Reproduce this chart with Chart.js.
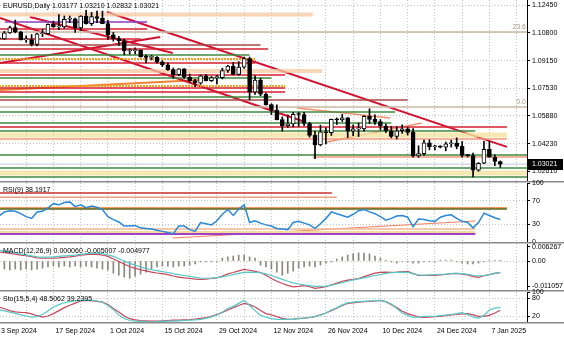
<!DOCTYPE html>
<html lang="en">
<head>
<meta charset="UTF-8">
<title>EURUSD, Daily</title>
<script src="https://cdn.jsdelivr.net/npm/chart.js@4.4.1/dist/chart.umd.min.js"></script>
<style>
  body { margin: 0; background: #fff; }
  #chart { position: relative; width: 564px; height: 338px; overflow: hidden; font-family: 'Liberation Sans', Arial, sans-serif; }
  #chart canvas { position: absolute; left: 0; top: 0; }
  .caption { position: absolute; left: 3px; font-size: 7px; line-height: 8px; color: #000; white-space: nowrap; }
  .fibo { position: absolute; font-size: 7px; line-height: 8px; color: #a89478; }
</style>
</head>
<body>
<div id="chart">
  <canvas id="price" width="564" height="338"></canvas>
  <canvas id="rsi" width="564" height="338"></canvas>
  <canvas id="macd" width="564" height="338"></canvas>
  <canvas id="sto" width="564" height="338"></canvas>
  <div class="caption" id="cap-price" style="top:2px"></div>
  <div class="caption" id="cap-rsi" style="top:186px"></div>
  <div class="caption" id="cap-macd" style="top:247px"></div>
  <div class="caption" id="cap-sto" style="top:295px"></div>
  <div class="fibo" id="fibo-236">23.6</div>
  <div class="fibo" id="fibo-0">0.0</div>
</div>
<script>
// daily bars, 3 Sep 2024 .. 9 Jan 2025 (bar index = position in the arrays)
const opens = [1.1047,1.1045,1.1080,1.1111,1.1085,1.1039,1.1040,1.1011,1.1075,1.1076,
  1.1131,1.1116,1.1116,1.1161,1.1163,1.1110,1.1179,1.1134,1.1177,1.1166,
  1.1135,1.1068,1.1046,1.1032,1.0974,1.0975,1.0978,1.0939,1.0935,1.0937,
  1.0909,1.0891,1.0862,1.0833,1.0867,1.0817,1.0797,1.0782,1.0826,1.0797,
  1.0815,1.0815,1.0857,1.0884,1.0834,1.0877,1.0928,1.0729,1.0800,1.0717,
  1.0655,1.0622,1.0566,1.0529,1.0540,1.0597,1.0596,1.0543,1.0472,1.0416,
  1.0494,1.0488,1.0568,1.0565,1.0576,1.0498,1.0511,1.0511,1.0586,1.0567,
  1.0554,1.0528,1.0500,1.0467,1.0500,1.0512,1.0490,1.0351,1.0364,1.0429,
  1.0405,1.0407,1.0403,1.0423,1.0427,1.0407,1.0354,1.0352,1.0266,1.0307,
  1.0390,1.0343,1.03177];
const highs = [1.1074,1.1089,1.1120,1.1156,1.1090,1.1063,1.1070,1.1078,1.1100,1.1134,
  1.1150,1.1189,1.1180,1.1180,1.1168,1.1182,1.1214,1.1202,1.1209,1.1209,
  1.1154,1.1083,1.1059,1.1043,1.0986,1.0991,1.0980,1.0950,1.0946,1.0940,
  1.0915,1.0903,1.0872,1.0868,1.0868,1.0836,1.0805,1.0831,1.0835,1.0822,
  1.0828,1.0871,1.0888,1.0905,1.0910,1.0937,1.0937,1.0826,1.0812,1.0723,
  1.0660,1.0654,1.0582,1.0594,1.0609,1.0608,1.0609,1.0550,1.0497,1.0533,
  1.0517,1.0569,1.0576,1.0597,1.0579,1.0535,1.0545,1.0590,1.0630,1.0595,
  1.0566,1.0540,1.0526,1.0524,1.0535,1.0520,1.0513,1.0411,1.0444,1.0446,
  1.0414,1.0412,1.0433,1.0444,1.0458,1.0436,1.0360,1.0368,1.0311,1.0437,
  1.0436,1.0357,1.03210];
const lows = [1.1026,1.1041,1.1077,1.1080,1.1038,1.1024,1.1002,1.1003,1.1058,1.1071,
  1.1113,1.1099,1.1108,1.1141,1.1083,1.1095,1.1132,1.1124,1.1141,1.1134,
  1.1042,1.1031,1.1006,1.0950,1.0954,1.0956,1.0936,1.0902,1.0920,1.0900,
  1.0880,1.0857,1.0811,1.0826,1.0810,1.0788,1.0761,1.0775,1.0796,1.0792,
  1.0778,1.0807,1.0846,1.0833,1.0830,1.0870,1.0683,1.0716,1.0708,1.0651,
  1.0595,1.0564,1.0497,1.0520,1.0523,1.0526,1.0530,1.0462,1.0335,1.0410,
  1.0422,1.0472,1.0537,1.0555,1.0460,1.0470,1.0466,1.0497,1.0541,1.0537,
  1.0505,1.0488,1.0458,1.0451,1.0485,1.0474,1.0344,1.0343,1.0353,1.0387,
  1.0386,1.0398,1.0381,1.0403,1.0393,1.0344,1.0345,1.0226,1.0260,1.0305,
  1.0343,1.0293,1.02832];
const closes = [1.1045,1.1080,1.1111,1.1085,1.1039,1.1040,1.1011,1.1075,1.1076,1.1131,
  1.1116,1.1116,1.1161,1.1163,1.1110,1.1179,1.1134,1.1177,1.1166,1.1135,
  1.1068,1.1046,1.1032,1.0974,1.0975,1.0978,1.0939,1.0935,1.0937,1.0909,
  1.0891,1.0862,1.0833,1.0867,1.0817,1.0797,1.0782,1.0826,1.0797,1.0815,
  1.0815,1.0857,1.0884,1.0834,1.0877,1.0928,1.0729,1.0800,1.0717,1.0655,
  1.0622,1.0566,1.0529,1.0540,1.0597,1.0596,1.0543,1.0472,1.0416,1.0494,
  1.0488,1.0568,1.0565,1.0576,1.0498,1.0511,1.0511,1.0586,1.0567,1.0554,
  1.0528,1.0500,1.0467,1.0500,1.0512,1.0490,1.0351,1.0364,1.0429,1.0405,
  1.0407,1.0403,1.0423,1.0427,1.0407,1.0354,1.0352,1.0266,1.0307,1.0390,
  1.0343,1.0318,1.03021];

const rsiValues = [44,51,53,52,48,43,40,51,52,58, 65,63,67,68,60,63,58,61,59,55,
  43,38,34,27,27,28,24,23,22,20, 18,16,14,27,27,21,18,33,31,29,
  36,47,55,45,56,63,33,36,32,29, 27,23,22,21,33,35,32,29,23,31,
  40,51,48,45,42,47,53,55,51,48, 43,37,40,44,45,42,26,39,38,36,
  35,42,45,46,40,35,33,24,33,49, 45,41,38.1917];

const macdMain = [0.0039,0.0036,0.0033,0.0030,0.0026,0.0023,0.0019,0.0014,0.0012,0.0012,
  0.0013,0.0014,0.0016,0.0018,0.0021,0.0025,0.0028,0.0030,0.0029,0.0026,
  0.0020,0.0009,-0.0002,-0.0014,-0.0024,-0.0032,-0.0038,-0.0043,-0.0048,-0.0052,
  -0.0055,-0.0059,-0.0065,-0.0070,-0.0073,-0.0076,-0.0079,-0.0080,-0.0079,-0.0076,
  -0.0073,-0.0065,-0.0056,-0.0050,-0.0043,-0.0036,-0.0040,-0.0045,-0.0050,-0.0062,
  -0.0076,-0.0088,-0.0098,-0.0106,-0.0112,-0.0110,-0.0107,-0.0112,-0.0119,-0.0116,
  -0.0112,-0.0104,-0.0096,-0.0088,-0.0083,-0.0080,-0.0076,-0.0068,-0.0060,-0.0053,
  -0.0049,-0.0048,-0.0049,-0.0048,-0.0046,-0.0045,-0.0055,-0.0062,-0.0063,-0.0063,
  -0.0062,-0.0060,-0.0058,-0.0055,-0.0054,-0.0057,-0.0060,-0.0068,-0.0071,-0.0064,
  -0.0059,-0.0054,-0.005007];
const macdSignal = [0.0046,0.0043,0.0039,0.0035,0.0031,0.0027,0.0022,0.0018,0.0017,0.0017,
  0.0018,0.0020,0.0022,0.0024,0.0026,0.0029,0.0032,0.0034,0.0034,0.0032,
  0.0027,0.0020,0.0010,0.0000,-0.0010,-0.0018,-0.0026,-0.0032,-0.0038,-0.0042,
  -0.0046,-0.0050,-0.0055,-0.0059,-0.0063,-0.0067,-0.0071,-0.0074,-0.0075,-0.0074,
  -0.0072,-0.0069,-0.0064,-0.0059,-0.0054,-0.0049,-0.0048,-0.0049,-0.0051,-0.0056,
  -0.0063,-0.0071,-0.0080,-0.0088,-0.0095,-0.0100,-0.0104,-0.0107,-0.0110,-0.0110,
  -0.0109,-0.0105,-0.0100,-0.0094,-0.0088,-0.0082,-0.0078,-0.0073,-0.0068,-0.0063,
  -0.0059,-0.0054,-0.0051,-0.0049,-0.0048,-0.0049,-0.0056,-0.0060,-0.0061,-0.0060,
  -0.0059,-0.0058,-0.0057,-0.0055,-0.0054,-0.0055,-0.0058,-0.0062,-0.0065,-0.0063,
  -0.0059,-0.0053,-0.004977];
const macdHist = [-0.0031,-0.0035,-0.0039,-0.0035,-0.0039,-0.0035,-0.0039,-0.0035,-0.0031,-0.0026,
  -0.0022,-0.0026,-0.0022,-0.0026,-0.0022,-0.0026,-0.0022,-0.0026,-0.0031,-0.0035,
  -0.0040,-0.0053,-0.0062,-0.0070,-0.0075,-0.0066,-0.0057,-0.0048,-0.0035,-0.0026,
  -0.0022,-0.0022,-0.0026,-0.0022,-0.0022,-0.0018,-0.0013,-0.0004,-0.0004,-0.0004,
  -0.0004,0.0013,0.0018,0.0022,0.0026,0.0026,0.0018,0.0013,-0.0018,-0.0026,
  -0.0035,-0.0048,-0.0062,-0.0053,-0.0044,-0.0031,-0.0026,-0.0022,-0.0026,-0.0018,
  -0.0009,-0.0004,0.0009,0.0018,0.0026,0.0031,0.0035,0.0035,0.0031,0.0022,
  0.0013,0.0004,-0.0004,-0.0009,-0.0004,-0.0004,-0.0009,-0.0009,-0.0004,-0.0004,
  -0.0004,0.0004,0.0004,0.0004,-0.0004,-0.0009,-0.0013,-0.0013,-0.0009,-0.0004,
  0.0002,0.0001,0.000060];

const stoMain = [40,37,33,29,24,20,16,18,25,37, 50,58,64,68,70,72,72,72,70,66,
  55,42,23,12,5,3,2,1,0,1, 2,3,3,4,5,6,7,9,12,17,
  23,33,45,52,62,72,55,38,22,16, 11,9,9,9,9,11,13,15,18,23,
  30,40,47,57,64,66,68,69,70,71, 72,67,60,45,30,22,15,17,19,19,
  19,21,23,25,28,31,25,16,13,22, 40,46,48.5062];
const stoSignal = [50,44,38,34,32,31,27,21,16,20, 28,38,48,56,63,70,72,71,69,66,
  58,45,33,20,11,7,5,4,3,3, 4,5,6,6,7,8,10,12,15,19,
  25,32,40,48,55,62,58,50,38,28, 24,18,12,9,10,12,13,15,18,24,
  30,38,46,55,62,64,66,68,69,70, 72,68,58,48,36,28,22,17,15,16,
  18,19,21,24,25,27,28,24,19,19, 22,30,39.2395];

// axis labels
const priceTicks = [1.12450, 1.10800, 1.09150, 1.07530, 1.05880, 1.04230, 1.02610];
const rsiTicks = [100, 70, 30, 0];
const macdTicks = [0.006267, 0, -0.011057];
const macdTickLabels = ['0.006267', '0.00', '-0.011057'];
const stoTicks = [100, 80, 20];
const dateBars = [0, 10, 20, 30, 40, 50, 60, 70, 80, 90];
const dateLabels = ['3 Sep 2024', '17 Sep 2024', '1 Oct 2024', '15 Oct 2024', '29 Oct 2024',
  '12 Nov 2024', '26 Nov 2024', '10 Dec 2024', '24 Dec 2024', '7 Jan 2025'];

// drawn objects on the price window: [price, fromBar, toBar]
const redLevels = [[1.1103, 0, 27.2], [1.1044, 0, 26], [1.0985, 0, 49.4], [1.0902, 0, 47],
  [1.0830, 0, 52.5], [1.0753, 0, 52.5], [1.0730, 0, 52.5], [1.0522, 0, 93.2]];
const brownLevels = [[1.1008, 0, 48], [1.0682, 0, 75]];
const greenLevels = [[1.0949, 0, 46], [1.0813, 0, 50], [1.0700, 0, 50], [1.0611, 0, 72.7],
  [1.0546, 0, 72], [1.0498, 0, 87.4], [1.0356, 0, 99], [1.0279, 0, 99], [1.0226, 0, 99]];
const orangeLevels = [[1.0925, 0, 47], [1.0765, 0, 52.5]];
const peachBands = [[1.1189, 0, 57.6], [1.0854, 0, 59.3]];
const yellowBands = [[1.0475, 0, 93.2], [1.0250, 0, 99]];
const salmonLevels = [[1.0451, 0, 93.2], [1.0344, 57.6, 99]];
const purpleLevels = [[1.1145, 1.1, 27.2]];
const fiboLevels = [[1.1085, 0, 99], [1.0641, 0, 99]];
// trend lines: [fromBar, fromPrice, toBar, toPrice]
const redTrends = [[19.8, 1.1204, 93.2, 1.0404], [0.2, 1.1168, 56.2, 1.0552],
  [0.2, 1.0902, 29.6, 1.1056], [5.7, 1.1174, 31.9, 1.0961]];
const orangeTrends = [[0.2, 1.0742, 36.9, 1.0801]];
const salmonTrends = [[60.2, 1.0433, 77.6, 1.0546], [54.7, 1.0635, 71.8, 1.0575]];

// drawn objects on the RSI window
const rsiRedLevels = [[83, 0, 61.1]];
const rsiSalmonLevels = [[76, 0, 62]];
const rsiOrangeLevels = [[57.6, 0, 93.2]];
const rsiOliveLevels = [[56, 0, 93.2]];
const rsiLowLevels = [[22, 0, 87.4]];
const rsiYellowLevels = [[17, 0, 87.4]];
const rsiPurpleLevels = [[13.6, 0, 87.4]];
const rsiTrends = [[31.9, 6.8, 87.4, 35.6]];

const X_MIN = 0.2, X_MAX = 96.9;
const FONT = { family: "'Liberation Sans', Arial, sans-serif", size: 7 };
const W = 564, H = 338;
const last = closes.length - 1;
const bars = closes.map((c, i) => i);
const weekBars = [];
for (let i = 0; i <= 95; i += 5) weekBars.push(i);

function segment(x0, y0, x1, y1, color, width, dash) {
  return {
    type: 'line', data: [{ x: x0, y: y0 }, { x: x1, y: y1 }],
    borderColor: color, borderWidth: width, borderDash: dash || [],
    pointRadius: 0, order: 5
  };
}
function levels(list, color, width, dash) {
  return list.map(l => segment(l[1], l[0], l[2], l[0], color, width, dash));
}
function trends(list, color, width) {
  return list.map(t => segment(t[0], t[1], t[2], t[3], color, width));
}
function series(values, color, width) {
  return {
    type: 'line', data: values.map((v, i) => ({ x: i, y: v })),
    borderColor: color, borderWidth: width, pointRadius: 0, tension: 0, order: 1
  };
}

// no auto padding: every window keeps the exact plot rectangle it is given
function noPadding(s) {
  s.paddingTop = 0; s.paddingBottom = 0; s.paddingLeft = 0; s.paddingRight = 0;
}

function xAxis(showDates) {
  return {
    type: 'linear', min: X_MIN, max: X_MAX, offset: false,
    afterBuildTicks: s => { s.ticks = weekBars.map(v => ({ value: v })); },
    afterFit: s => { s.height = showDates ? 16 : 0; noPadding(s); },
    grid: { color: '#c4c4c4', drawTicks: false, offset: false },
    border: { display: false, dash: [1, 2] },
    ticks: showDates ? {
      display: true, align: 'start', autoSkip: false, maxRotation: 0, padding: 5,
      labelOffset: 2, color: '#000', font: FONT,
      callback: v => { const k = dateBars.indexOf(v); return k < 0 ? '' : dateLabels[k]; }
    } : { display: false }
  };
}
function yAxis(min, max, ticks, fmt, gridFor) {
  return {
    position: 'right', min, max,
    afterBuildTicks: s => { s.ticks = ticks.map(v => ({ value: v })); },
    afterFit: s => { s.width = W - 527; noPadding(s); },
    grid: {
      color: ctx => (gridFor(ctx.tick && ctx.tick.value) ? '#c4c4c4' : 'rgba(0,0,0,0)'),
      tickColor: '#000', tickLength: 3, tickBorderDash: []
    },
    border: { display: true, color: '#000', dash: [1, 2] },
    ticks: { color: '#000', font: FONT, padding: 2, autoSkip: false, callback: fmt }
  };
}

const separator = {
  id: 'separator',
  afterDraw(chart) {
    const { ctx, chartArea } = chart;
    ctx.save();
    ctx.strokeStyle = '#8a8a8a';
    ctx.lineWidth = 1.5;
    ctx.beginPath();
    ctx.moveTo(0, chartArea.bottom + 0.75);
    ctx.lineTo(W, chartArea.bottom + 0.75);
    ctx.stroke();
    ctx.restore();
  }
};

const lastPriceTag = {
  id: 'lastPriceTag',
  afterDraw(chart) {
    const { ctx, chartArea } = chart;
    const y = Math.round(chart.scales.y.getPixelForValue(closes[last]));
    ctx.save();
    ctx.fillStyle = '#000';
    ctx.fillRect(chartArea.right + 1, y - 5, 35, 11);
    ctx.fillStyle = '#fff';
    ctx.font = "7px 'Liberation Sans', Arial, sans-serif";
    ctx.textBaseline = 'middle';
    ctx.fillText(closes[last].toFixed(5), chartArea.right + 5, y + 0.5);
    ctx.restore();
  }
};

function baseOptions(top, bottom, x, y) {
  return {
    responsive: false, animation: false, events: [],
    layout: { padding: { top, bottom: H - bottom, left: 0, right: 0 } },
    plugins: { legend: { display: false }, tooltip: { enabled: false } },
    scales: { x, y }
  };
}

// price window
const priceChart = new Chart(document.getElementById('price'), {
  type: 'bar',
  data: {
    datasets: [
      ...levels(fiboLevels, '#cbb9a0', 1.5),
      ...levels(peachBands, 'rgba(246,200,160,0.75)', 4),
      ...levels(yellowBands, 'rgba(244,226,160,0.8)', 5),
      ...levels(redLevels, '#d42030', 1.5),
      ...levels(brownLevels, '#a84848', 1.5),
      ...levels(greenLevels, '#3f8a3f', 1.5),
      ...levels(orangeLevels, '#f0a020', 2, [2, 1]),
      ...levels(salmonLevels, '#f09878', 1.5),
      ...levels(purpleLevels, '#8a3cc0', 1.5),
      ...levels([[closes[last], 0, 99]], '#c4c4d8', 1),
      ...trends(redTrends, '#d41030', 2),
      ...trends(orangeTrends, '#f08030', 2),
      ...trends(salmonTrends, '#f09070', 1.5),
      {
        type: 'bar', order: 1, grouped: false, barThickness: 1,
        data: bars.map(i => ({ x: i, y: [lows[i], highs[i]] })),
        backgroundColor: '#000'
      },
      {
        type: 'bar', order: 0, grouped: false, barThickness: 4, minBarLength: 1,
        data: bars.map(i => ({ x: i, y: [opens[i], closes[i]] })),
        backgroundColor: bars.map(i => (closes[i] >= opens[i] ? '#fff' : '#000')),
        borderColor: '#000', borderWidth: 1, borderSkipped: false
      }
    ]
  },
  options: baseOptions(0, 181, xAxis(false),
    yAxis(1.0202, 1.1275, priceTicks, v => v.toFixed(5), () => true)),
  plugins: [separator, lastPriceTag]
});

// RSI window
new Chart(document.getElementById('rsi'), {
  type: 'line',
  data: {
    datasets: [
      ...levels(rsiRedLevels, '#c83030', 1.5),
      ...levels(rsiSalmonLevels, '#f0a080', 1.5),
      ...levels(rsiOliveLevels, '#5a6a20', 1.5),
      ...levels(rsiOrangeLevels, '#f07828', 1.5),
      ...levels(rsiLowLevels, '#f2b890', 1.5),
      ...levels(rsiYellowLevels, '#f4dc98', 2),
      ...levels(rsiPurpleLevels, '#a040c8', 2),
      ...trends(rsiTrends, '#f08060', 1.2),
      series(rsiValues, '#2a88d8', 1.5)
    ]
  },
  options: baseOptions(183, 242, xAxis(false),
    yAxis(0, 100, rsiTicks, v => String(v), v => v === 30 || v === 70)),
  plugins: [separator]
});

// MACD window
new Chart(document.getElementById('macd'), {
  type: 'bar',
  data: {
    datasets: [
      {
        type: 'bar', order: 3, barThickness: 1,
        data: bars.map(i => ({ x: i, y: macdHist[i] })),
        backgroundColor: '#8c887c'
      },
      series(macdSignal, '#56c8c8', 1.2),
      series(macdMain, '#c8485a', 1.2)
    ]
  },
  options: baseOptions(244, 290, xAxis(false),
    yAxis(-0.0126, 0.0074, macdTicks, v => macdTickLabels[macdTicks.indexOf(v)], v => v === 0)),
  plugins: [separator]
});

// Stochastic window with the date scale
new Chart(document.getElementById('sto'), {
  type: 'line',
  data: {
    datasets: [
      series(stoMain, '#56c8c8', 1.2),
      series(stoSignal, '#c8485a', 1.2)
    ]
  },
  options: baseOptions(292, H, xAxis(true),
    yAxis(0, 100, stoTicks, v => String(v), v => v === 20 || v === 80)),
  plugins: [separator]
});

// captions built from the last bar
document.getElementById('cap-price').textContent = 'EURUSD,Daily  ' +
  [opens[last], highs[last], lows[last], closes[last]].map(v => v.toFixed(5)).join(' ');
document.getElementById('cap-rsi').textContent = 'RSI(9) ' + rsiValues[last].toFixed(4);
document.getElementById('cap-macd').textContent = 'MACD(12,26,9) ' +
  [macdHist[last], macdMain[last], macdSignal[last]].map(v => v.toFixed(6)).join(' ');
document.getElementById('cap-sto').textContent = 'Sto(15,5,4) ' +
  [stoMain[last], stoSignal[last]].map(v => v.toFixed(4)).join(' ');

// fibo level captions sit just above their lines, at the right edge
const py = priceChart.scales.y;
const fr = W - priceChart.chartArea.right + 1;
[['fibo-236', fiboLevels[0][0]], ['fibo-0', fiboLevels[1][0]]].forEach(([id, p]) => {
  const el = document.getElementById(id);
  el.style.right = fr + 'px';
  el.style.top = (py.getPixelForValue(p) - 9) + 'px';
});
</script>
</body>
</html>
